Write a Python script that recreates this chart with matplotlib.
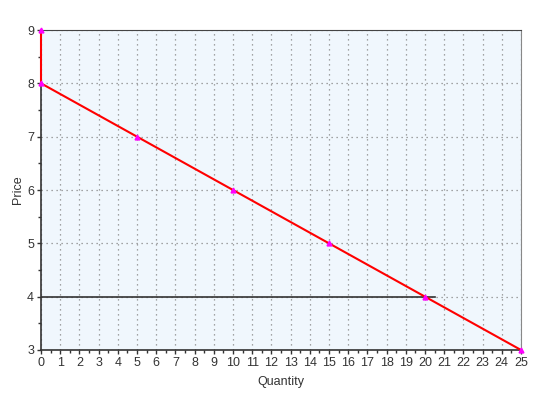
import matplotlib
matplotlib.use("Agg")
import matplotlib.pyplot as plt
from matplotlib.ticker import MultipleLocator

plt.rcParams['font.family'] = ['Liberation Sans', 'DejaVu Sans']

demand_q = [0, 0, 5, 10, 15, 20, 25]
demand_p = [9, 8, 7, 6, 5, 4, 3]
price_line_q = [0, 20.5]
price_line_p = [4, 4]

fig = plt.figure(figsize=(5.6, 4.2), dpi=100)
ax = fig.add_axes([41/560, 1-350/420, 480/560, 320/420])
ax.set_facecolor('#f0f7fd')
ax.set_xlim(0, 25)
ax.set_ylim(3, 9)
ax.xaxis.set_major_locator(MultipleLocator(1))
ax.xaxis.set_minor_locator(MultipleLocator(0.5))
ax.yaxis.set_major_locator(MultipleLocator(1))
ax.yaxis.set_minor_locator(MultipleLocator(0.5))
ax.grid(True, which='major', linestyle=(0, (1, 3)), color='#888888', linewidth=0.9)
ax.tick_params(which='major', direction='out', length=3, width=1, labelsize=9, colors='#333333', pad=2)
ax.tick_params(which='minor', direction='out', length=2, width=1, colors='#333333')
for s in ['left', 'bottom']:
    ax.spines[s].set_color('#333333')
    ax.spines[s].set_linewidth(1.2)
ax.spines['top'].set_color('#444444')
ax.spines['right'].set_color('#888888')

ax.plot(price_line_q, price_line_p, color='#333333', linewidth=1.2, zorder=3)
ax.plot(demand_q, demand_p, color='#ff0000', linewidth=1.5, zorder=4, clip_on=False)
ax.plot(demand_q, demand_p, linestyle='none', marker='^', markersize=3.5, color='#ff00ff', zorder=5, clip_on=False)

ax.set_xlabel('Quantity', fontsize=9, color='#333333', labelpad=5)
ax.set_ylabel('Price', fontsize=9, color='#333333')
ax.yaxis.set_label_coords(-0.036, 0.5)

fig.savefig('out.png', dpi=100)
